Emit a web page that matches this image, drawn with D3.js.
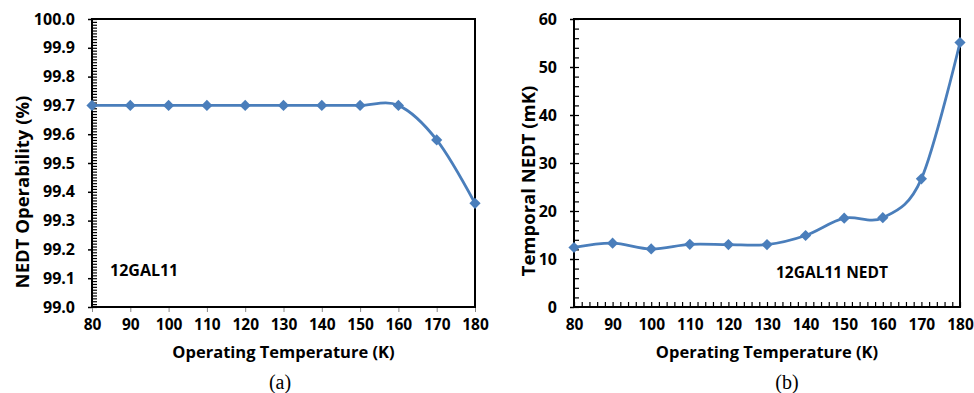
<!DOCTYPE html>
<html><head><meta charset="utf-8">
<script src="https://cdn.jsdelivr.net/npm/d3@7"></script>
<style>
body{margin:0;background:#fff;}
svg text{font-family:"Open Sans",Lato,sans-serif;font-weight:bold;fill:#000;}
</style></head>
<body><svg id="c" width="974" height="393"></svg>
<script>
const temps = [80, 90, 100, 110, 120, 130, 140, 150, 160, 170, 180];
const operability = [99.7, 99.7, 99.7, 99.7, 99.7, 99.7, 99.7, 99.7, 99.7, 99.58, 99.36];
const nedt = [12.4, 13.3, 12.1, 13.05, 13.0, 13.0, 14.9, 18.5, 18.6, 26.7, 55.1];
const xTicks = [80, 90, 100, 110, 120, 130, 140, 150, 160, 170, 180];
const yTicksA = [99.0, 99.1, 99.2, 99.3, 99.4, 99.5, 99.6, 99.7, 99.8, 99.9, 100.0];
const yTicksB = [0, 10, 20, 30, 40, 50, 60];

const svg = d3.select("#c");
const lineColor = "#4a7ebb";

function panel(o){
  const g = svg.append("g");
  const x = d3.scaleLinear().domain([80,180]).range([o.x0,o.x1]);
  const y = d3.scaleLinear().domain(o.ydom).range([o.y1,o.y0]);
  const yMinor = d3.range(o.ydom[0], o.ydom[1]+o.yMinorStep/2, o.yMinorStep);
  g.append("g").attr("transform",`translate(${o.x0},0)`)
    .call(d3.axisRight(y).tickValues(yMinor).tickSize(5).tickFormat(""))
    .call(a=>{a.select(".domain").remove();a.selectAll("line").attr("stroke","#000").attr("stroke-width",1.2);});
  if(o.xMinor){
    const xm = d3.range(80,180.1,2);
    g.append("g").attr("transform",`translate(0,${o.y1})`)
      .call(d3.axisTop(x).tickValues(xm).tickSize(5).tickFormat(""))
      .call(a=>{a.select(".domain").remove();a.selectAll("line").attr("stroke","#000").attr("stroke-width",1.2);});
  }
  g.append("g").attr("transform",`translate(${o.x0},0)`)
    .call(d3.axisLeft(y).tickValues(o.yTicks).tickSize(4).tickPadding(13).tickFormat(o.yfmt))
    .call(a=>{a.select(".domain").remove();a.selectAll("line").attr("stroke","#000").attr("stroke-width",1.5);
      a.selectAll("text").style("font-size","16px").attr("font-family",null);});
  g.append("g").attr("transform",`translate(0,${o.y1})`)
    .call(d3.axisBottom(x).tickValues(xTicks).tickSize(o.xMinor?0:5).tickPadding(o.xMinor?12:7))
    .call(a=>{a.select(".domain").remove();a.selectAll("line").attr("stroke","#888").attr("stroke-width",1);
      a.selectAll("text").style("font-size","15.5px").attr("font-family",null);});
  g.append("rect").attr("x",o.x0).attr("y",o.y0).attr("width",o.x1-o.x0).attr("height",o.y1-o.y0)
    .attr("fill","none").attr("stroke","#000").attr("stroke-width",2);
  const pts = temps.map((t,i)=>[x(t),y(o.vals[i])]);
  g.append("path").attr("d",d3.line().curve(d3.curveCardinal.tension(0))(pts))
    .attr("fill","none").attr("stroke",lineColor).attr("stroke-width",2.8);
  g.selectAll(".m").data(pts).enter().append("path")
    .attr("transform",d=>`translate(${d[0]},${d[1]})`)
    .attr("d",d3.symbol(d3.symbolDiamond2 || d3.symbolDiamond,80)())
    .attr("fill",lineColor);
  g.append("text").attr("x",(o.x0+o.x1)/2).attr("y",357.5).attr("text-anchor","middle")
    .style("font-size","16.5px").text("Operating Temperature (K)");
  g.append("text").attr("transform",`translate(${o.ytx},${o.yty}) rotate(-90)`).attr("text-anchor","middle")
    .style("font-size","18.5px").text(o.ytitle);
  g.append("text").attr("x",o.labx).attr("y",o.laby).style("font-size",o.labfs).text(o.label);
  g.append("text").attr("x",o.capx).attr("y",389).attr("text-anchor","middle")
    .style("font-family","'Liberation Serif','Times New Roman',serif").style("font-weight","normal")
    .style("font-size","20px").text(o.cap);
}

panel({x0:92,x1:475,y0:19,y1:307,ydom:[99,100],yMinorStep:0.01,yTicks:yTicksA,yfmt:d3.format(".1f"),
  vals:operability,xMinor:false,ytitle:"NEDT Operability (%)",ytx:29,yty:192,
  label:"12GAL11",labx:110,laby:276,labfs:"16px",cap:"(a)",capx:280});
panel({x0:574,x1:960,y0:19,y1:307,ydom:[0,60],yMinorStep:2,yTicks:yTicksB,yfmt:d3.format("d"),
  vals:nedt,xMinor:true,ytitle:"Temporal NEDT  (mK)",ytx:535,yty:181,
  label:"12GAL11 NEDT",labx:776,laby:278,labfs:"15.5px",cap:"(b)",capx:787});
</script></body></html>
